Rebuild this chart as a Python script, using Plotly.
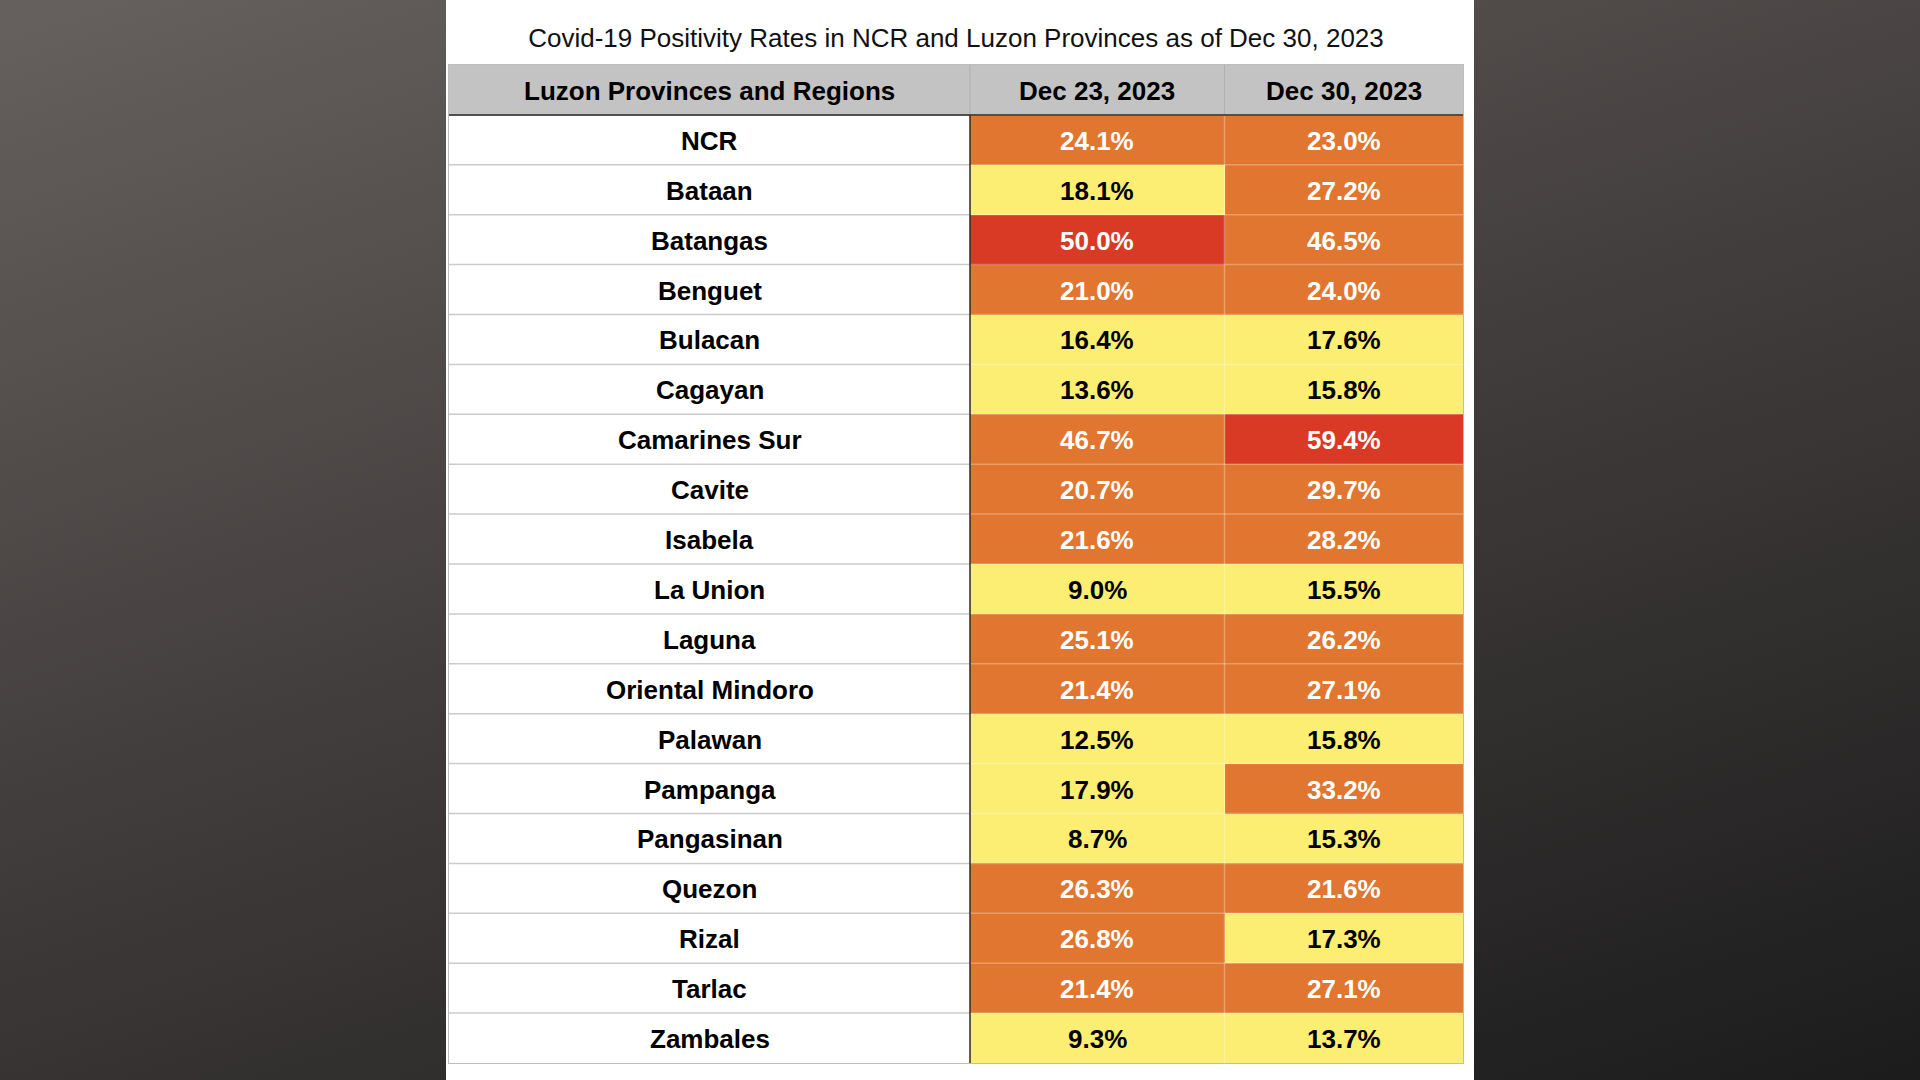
import base64
import plotly.graph_objects as go

# ---------------- data ----------------
title_text = "Covid-19 Positivity Rates in NCR and Luzon Provinces as of Dec 30, 2023"
col_headers = ["Luzon Provinces and Regions", "Dec 23, 2023", "Dec 30, 2023"]
provinces = ["NCR", "Bataan", "Batangas", "Benguet", "Bulacan", "Cagayan",
             "Camarines Sur", "Cavite", "Isabela", "La Union", "Laguna",
             "Oriental Mindoro", "Palawan", "Pampanga", "Pangasinan", "Quezon",
             "Rizal", "Tarlac", "Zambales"]
dec23 = [24.1, 18.1, 50.0, 21.0, 16.4, 13.6, 46.7, 20.7, 21.6, 9.0, 25.1,
         21.4, 12.5, 17.9, 8.7, 26.3, 26.8, 21.4, 9.3]
dec30 = [23.0, 27.2, 46.5, 24.0, 17.6, 15.8, 59.4, 29.7, 28.2, 15.5, 26.2,
         27.1, 15.8, 33.2, 15.3, 21.6, 17.3, 27.1, 13.7]

# ---------------- styling / layout constants ----------------
W, H = 1920, 1080
ML, MR, MT, MB = 449, 457, 65, 17
PW, PH = W - ML - MR, H - MT - MB
col_edges = [0, 521, 775.5, PW]           # table column boundaries (px units)
YELLOW, ORANGE, RED = "#FBEE72", "#E0762F", "#D93A26"
HEADER_GRAY = "#C3C3C3"
FONT = "Liberation Sans, Arial, Helvetica, sans-serif"
FS = 26
HEADER_CODE, NAME_CODE = -15, -5          # colour codes for non-value cells
ZMIN, ZMAX = -20, 100


def t(v):
    return (v - ZMIN) / (ZMAX - ZMIN)


colorscale = [
    [0, HEADER_GRAY], [t(-10), HEADER_GRAY],
    [t(-10), "#FFFFFF"], [t(0), "#FFFFFF"],
    [t(0), YELLOW], [t(20), YELLOW],
    [t(20), ORANGE], [t(49.99), ORANGE],
    [t(49.99), RED], [1, RED],
]

rows = [col_headers[0]] + provinces
z = [[HEADER_CODE] * 3] + [[NAME_CODE, a, b] for a, b in zip(dec23, dec30)]
centers = [(col_edges[i] + col_edges[i + 1]) / 2 for i in range(3)]

fig = go.Figure(go.Heatmap(
    x=col_edges, y=rows, z=z, zmin=ZMIN, zmax=ZMAX,
    colorscale=colorscale, showscale=False, hoverinfo="skip"))

annotations = []
for j, h in enumerate(col_headers):
    annotations.append(dict(x=centers[j], y=col_headers[0], text=f"<b>{h}</b>",
                            showarrow=False, xref="x", yref="y", yshift=-1,
                            font=dict(family=FONT, size=FS, color="#000000")))
for i, p in enumerate(provinces):
    annotations.append(dict(x=centers[0], y=p, text=f"<b>{p}</b>",
                            showarrow=False, xref="x", yref="y", yshift=-1,
                            font=dict(family=FONT, size=FS, color="#000000")))
    for j, v in enumerate([dec23[i], dec30[i]]):
        annotations.append(dict(x=centers[j + 1], y=p, text=f"<b>{v:.1f}%</b>",
                                showarrow=False, xref="x", yref="y", yshift=-1,
                                font=dict(family=FONT, size=FS,
                                          color="#FFFFFF" if v >= 20 else "#000000")))

# background gradient
svg = (f'<svg xmlns="http://www.w3.org/2000/svg" width="{W}" height="{H}" '
       f'viewBox="0 0 {W} {H}" preserveAspectRatio="none">'
       '<defs><linearGradient id="g" x1="0" y1="0" x2="0.68" y2="1.18">'
       '<stop offset="0" stop-color="#66615f"/>'
       '<stop offset="0.5" stop-color="#403c3b"/>'
       '<stop offset="1" stop-color="#1c1c1c"/></linearGradient></defs>'
       f'<rect width="{W}" height="{H}" fill="url(#g)"/></svg>')
bg_src = "data:image/svg+xml;base64," + base64.b64encode(svg.encode()).decode()

shapes = [
    # white panel
    dict(type="rect", xref="paper", yref="paper", layer="below",
         x0=(446 - ML) / PW, x1=(1474 - ML) / PW, y0=-0.2, y1=1.2,
         fillcolor="#FFFFFF", line=dict(width=0)),
]
# row separators
for i in range(1, len(provinces)):
    yb = i + 0.5
    shapes.append(dict(type="line", xref="x", yref="y", x0=0, x1=col_edges[1],
                       y0=yb, y1=yb, line=dict(color="#CBCBCB", width=1.5)))
    shapes.append(dict(type="line", xref="x", yref="y", x0=col_edges[1], x1=PW,
                       y0=yb, y1=yb,
                       line=dict(color="rgba(255,255,255,0.28)", width=1.5)))
# column separators
shapes.append(dict(type="line", xref="x", yref="y", x0=col_edges[2], x1=col_edges[2],
                   y0=0.5, y1=len(provinces) + 0.5,
                   line=dict(color="rgba(255,255,255,0.3)", width=1.5)))
for xe in col_edges[1:3]:
    shapes.append(dict(type="line", xref="x", yref="y", x0=xe, x1=xe,
                       y0=-0.5, y1=0.5, line=dict(color="#B0B0B0", width=1)))
# dark line below header and dark divider between names and values
shapes.append(dict(type="line", xref="x", yref="y", x0=0, x1=PW, y0=0.5, y1=0.5,
                   line=dict(color="#505050", width=2)))
shapes.append(dict(type="line", xref="x", yref="y", x0=col_edges[1], x1=col_edges[1],
                   y0=0.5, y1=len(provinces) + 0.5,
                   line=dict(color="#2a2a2a", width=1.5)))

fig.update_layout(
    width=W, height=H, margin=dict(l=ML, r=MR, t=MT, b=MB, pad=0),
    paper_bgcolor="#3a3838", plot_bgcolor="#FFFFFF",
    title=dict(text=title_text, x=956 / W, xanchor="center", xref="container",
               y=1 - 38 / H, yanchor="middle", yref="container",
               font=dict(family=FONT, size=FS, color="#111111")),
    xaxis=dict(range=[0, PW], showticklabels=False, showgrid=False,
               zeroline=False, ticks="", showline=True, mirror=True,
               linecolor="#BDBDBD", linewidth=1, fixedrange=True),
    yaxis=dict(type="category", categoryorder="array", categoryarray=rows,
               range=[len(rows) - 0.5, -0.5], showticklabels=False,
               showgrid=False, zeroline=False, ticks="", showline=True,
               mirror=True, linecolor="#BDBDBD", linewidth=1, fixedrange=True),
    annotations=annotations,
    shapes=shapes,
    images=[dict(source=bg_src, xref="paper", yref="paper",
                 x=-ML / PW, y=1 + MT / PH, sizex=W / PW, sizey=H / PH,
                 xanchor="left", yanchor="top", sizing="stretch",
                 layer="below")],
    showlegend=False,
)

fig.write_html("out.html", config={"displayModeBar": False},
               post_script="document.body.style.margin='0px';"
                           "document.body.style.overflow='hidden';")
